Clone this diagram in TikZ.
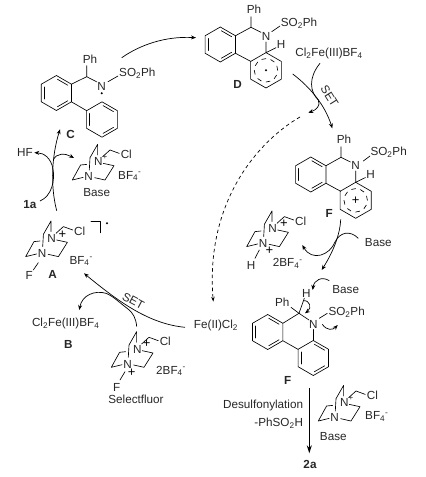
\documentclass[tikz,border=0pt]{standalone}
\usepackage{fontspec}
\setmainfont{Liberation Sans}
\usetikzlibrary{arrows.meta}
\newcommand{\fsz}{\fontsize{11.7}{13}\selectfont}
\tikzset{
  bond/.style={line width=0.65pt,line cap=round,line join=round},
  txt/.style={inner sep=0pt,font=\fsz,text=black!85},
  lbl/.style={inner sep=0pt,font=\fsz\bfseries,text=black!85},
  atom/.style={inner sep=0pt,font=\fsz,text=black!85},
  plussign/.style={inner sep=0pt,font=\fontsize{13}{13}\selectfont},
  curved/.style={line width=0.7pt,-{Stealth[length=5pt,width=4pt]}},
  dash arrow/.style={line width=0.7pt,dash pattern=on 3.5pt off 3pt,-{Stealth[length=5pt,width=3.5pt]}},
}
% Kekule benzene ring, vertex up
\newcommand{\benzring}[3]{%
  \begin{scope}[shift={(#1,#2)}]
    \draw[bond] (90:#3)--(30:#3)--(-30:#3)--(-90:#3)--(-150:#3)--(150:#3)--cycle;
    \draw[bond,shorten >=1.2pt,shorten <=1.2pt] (150:#3*0.82)--(210:#3*0.82);
    \draw[bond,shorten >=1.2pt,shorten <=1.2pt] (90:#3*0.82)--(30:#3*0.82);
    \draw[bond,shorten >=1.2pt,shorten <=1.2pt] (-90:#3*0.82)--(-30:#3*0.82);
  \end{scope}}
% ring with delocalised dashed circle
\newcommand{\openring}[3]{%
  \begin{scope}[shift={(#1,#2)}]
    \draw[bond] (90:#3)--(30:#3)--(-30:#3)--(-90:#3)--(-150:#3)--(150:#3)--cycle;
    \draw[line width=0.65pt,dash pattern=on 4.5pt off 4.6pt] (0,0) circle (11.7pt);
  \end{scope}}
% DABCO cage, origin at the quaternary N
\newcommand{\cage}[3]{%
  \begin{scope}[shift={(#2,#3)}]
    \node[atom] (#1np) at (0,0) {N};
    \node[atom] (#1n) at (-9.6,15) {N};
    \node[atom,anchor=west] (#1cl) at (22.3,-7.3) {Cl};
    \draw[bond] (-0.7,-6.7)--(-0.7,-17.3)--(-8.3,-4)--(-9,8.3);
    \draw[bond] (-11.7,2.7)--(-17.7,3.3)--(-26,18.3)--(-15.2,15.7);
    \draw[bond] (5,1.7)--(15.7,4)--(6.7,18.3)--(-3.6,16);
    \draw[bond] (4.3,-5)--(11.7,-11.7)--(21,-8.3);
  \end{scope}}
\begin{document}
\begin{tikzpicture}[x=1pt,y=-1pt]
\useasboundingbox (0,0) rectangle (426,477);

% ---------- C
\benzring{56.4}{93}{17.5}
\benzring{102}{119.5}{17.7}
\node[atom] (cPh) at (90,59) {Ph};
\node[atom] (cN) at (101.7,86) {N};
\node[atom,anchor=west] (cS) at (119,73) {SO\textsubscript{2}Ph};
\node[lbl] (cL) at (70.7,134) {C};
\draw[bond] (86.7,65.7)--(86.7,76.7)--(97,82);
\draw[bond] (86.7,76.7)--(71.4,84.2);
\draw[bond] (108,81.7)--(118,76);
\draw[bond] (71.4,101.8)--(86.7,110.7);
\fill (101.7,93.2) circle (1.1pt);

% ---------- D
\benzring{220.3}{44.5}{17.5}
\openring{266}{70.3}{17.7}
\node[atom] (dPh) at (254,9.3) {Ph};
\node[atom] (dN) at (266,36.7) {N};
\node[atom,anchor=west] (dS) at (280.7,23.3) {SO\textsubscript{2}Ph};
\node[atom] (dH) at (281,44.3) {H};
\node[lbl] (dL) at (237.7,84) {D};
\draw[bond] (251,16.7)--(251,27.3)--(261,32.3);
\draw[bond] (251,27.3)--(235.5,35.7);
\draw[bond] (235.5,53.3)--(251,61.5);
\draw[bond] (266,42)--(266,52.7)--(276,47.7);
\draw[bond] (271.7,31.7)--(280,26);
\fill (266,70.3) circle (1.1pt);

% ---------- Cl2Fe top
\node[txt] (feA) at (329,53.3) {Cl\textsubscript{2}Fe(III)BF\textsubscript{4}};

% ---------- F cation
\benzring{310.8}{174.5}{17.5}
\openring{355.7}{200.3}{18}
\node[atom] (fPh) at (344,139.3) {Ph};
\node[atom] (fN) at (355.7,165.7) {N};
\node[atom,anchor=west] (fS) at (370.3,152) {SO\textsubscript{2}Ph};
\node[atom] (fH) at (370.7,174.7) {H};
\node[lbl] (fL) at (329.3,213.3) {F};
\node[plussign] (fP) at (355.7,200.8) {+};
\draw[bond] (341,146.7)--(341,157.3)--(350.5,162);
\draw[bond] (341,157.3)--(326,165.7);
\draw[bond] (326,183.3)--(340.7,191.3);
\draw[bond] (355.7,171)--(355.7,182.3)--(365.5,177.5);
\draw[bond] (363.3,161)--(370,156);

% ---------- Base, left
\cage{bl}{98.3}{161.7}
\node[atom,font=\fontsize{8}{8}\selectfont] (blp) at (105,157.5) {+};
\node[txt,anchor=west] (blb) at (118,176) {BF\textsubscript{4}\textsuperscript{-}};
\node[txt] (blt) at (96.7,192.7) {Base};

% ---------- A
\cage{a}{51.7}{238.3}
\node[plussign] (ap) at (62.3,234.3) {+};
\node[atom] (aF) at (29.3,275) {F};
\node[lbl] (aL) at (52.7,274) {A};
\node[txt,anchor=west] (ab) at (69.3,261) {BF\textsubscript{4}\textsuperscript{-}};
\draw[bond] (38.3,262.7)--(33.3,270);
\draw[bond] (91,221.7)--(100.7,221.7)--(100.7,232.7);
\fill (107,223.3) circle (1.1pt);

% ---------- B
\node[txt] (feB) at (65.7,323.7) {Cl\textsubscript{2}Fe(III)BF\textsubscript{4}};
\node[lbl] (bL) at (68.3,344) {B};

% ---------- Selectfluor
\cage{s}{137.3}{349}
\node[plussign] (sp1) at (146.7,344) {+};
\node[plussign] (sp2) at (131.7,372.3) {+};
\node[atom] (sF) at (116.7,387.3) {F};
\node[txt,anchor=west] (sb) at (156,371) {2BF\textsubscript{4}\textsuperscript{-}};
\node[txt] (st) at (136,399) {Selectfluor};
\draw[bond] (125,371.7)--(120,380);

% ---------- middle cage
\cage{m}{272.7}{228.3}
\node[plussign] (mp1) at (284,223.3) {+};
\node[plussign] (mp2) at (269.3,250.7) {+};
\node[atom] (mH) at (251,265) {H};
\node[txt,anchor=west] (mb) at (272.7,263.3) {2BF\textsubscript{4}\textsuperscript{-}};
\draw[bond] (259.3,250)--(255,258.3);
\node[txt] (baseA) at (378.3,242.7) {Base};

% ---------- Fe(II)
\node[txt] (feC) at (216,325.7) {Fe(II)Cl\textsubscript{2}};

% ---------- second F
\benzring{267.7}{332}{17.5}
\benzring{313.3}{358}{17.5}
\node[atom] (gPh) at (282.3,302.7) {Ph};
\node[atom] (gH) at (306.3,293.3) {H};
\node[atom] (gN) at (313.3,324.3) {N};
\node[atom,anchor=west] (gS) at (328.3,312.3) {SO\textsubscript{2}Ph};
\node[lbl] (gL) at (287.7,380) {F};
\node[txt] (baseB) at (345.7,290) {Base};
\draw[bond] (291,307.3)--(299,313.3)--(309,320);
\draw[bond] (299,313.3)--(304.3,298.3);
\draw[bond] (283,323.2)--(299,313.3);
\draw[bond] (283,340.8)--(298,349.3);
\draw[bond] (313.3,329.5)--(313.3,340.5);
\draw[bond] (319.3,318.3)--(327.3,313.3);

% ---------- bottom
\node[txt,anchor=east] (des) at (303.3,405) {Desulfonylation};
\node[txt,anchor=east] (psh) at (303.3,423.3) {-PhSO\textsubscript{2}H};
\cage{r}{344.3}{402.7}
\node[atom,font=\fontsize{8}{8}\selectfont] (rp) at (351,398.5) {+};
\node[txt,anchor=west] (rb) at (365,416.7) {BF\textsubscript{4}\textsuperscript{-}};
\node[txt] (rt) at (333.3,436.7) {Base};
\node[lbl] (two) at (310,464) {2a};
\node[lbl] (one) at (30,205) {1a};
\node[txt] (hf) at (25,152.7) {HF};

% ---------- SET labels
\node[txt,rotate=-58] (setA) at (329.5,96) {SET};
\node[txt,rotate=-28] (setB) at (133.3,301) {SET};

% ---------- connector end points
\coordinate (c1) at (121.7,57.7);
\coordinate (c2) at (196,37.7);
\coordinate (s1) at (56.7,210.7);
\coordinate (s2) at (60,129.3);
\coordinate (h1) at (40,201);
\coordinate (h2) at (34.3,152.7);
\coordinate (b1) at (53.3,160);
\coordinate (b2) at (74,158);
\coordinate (m1) at (185,327.3);
\coordinate (m2) at (84,273.3);
\coordinate (q1) at (136.7,326.7);
\coordinate (q2) at (79.3,310);
\coordinate (d1) at (300,117);
\coordinate (d2) at (213.3,301.7);
\coordinate (e1) at (292.7,74);
\coordinate (e2) at (332.3,128.3);
\coordinate (k1) at (320,63.3);
\coordinate (k2) at (308.3,112.7);
\coordinate (f1) at (340.7,219.3);
\coordinate (f2) at (321.7,270);
\coordinate (g1) at (358.3,238.3);
\coordinate (g2) at (302.3,245);
\coordinate (u1) at (329.3,280.7);
\coordinate (u2) at (312.7,290);
\coordinate (v1) at (303.3,300.7);
\coordinate (v2) at (305,313.3);
\coordinate (w1) at (322.3,324.3);
\coordinate (w2) at (337.7,325);
\coordinate (z1) at (309.3,388.3);
\coordinate (z2) at (309.3,453.3);

% ---------- arrows
\draw[curved] (c1) .. controls (140,45) and (165,36) .. (c2);
\draw[curved] (s1) .. controls (50,185) and (52,155) .. (s2);
\draw[curved] (h1) .. controls (52,196) and (55,180) .. (53,169) .. controls (51,158) and (44,153) .. (h2);
\draw[curved] (b1) .. controls (56,153) and (65,153) .. (b2);
\draw[curved] (m1) .. controls (150,324) and (120,303) .. (m2);
\draw[curved] (q1) .. controls (136,318) and (133,313) .. (128,309) .. controls (120,303) and (113,296) .. (106,293.3) .. controls (95,290) and (82,295) .. (q2);
\draw[dash arrow] (d1) .. controls (260,140) and (205,200) .. (d2);
\draw[curved] (e1) .. controls (310,87) and (325,105) .. (e2);
\draw[curved] (k1) .. controls (308,78) and (310,92) .. (318.3,100) .. controls (321,106) and (316,110) .. (k2);
\draw[curved] (f1) .. controls (340,235) and (333,252) .. (f2);
\draw[curved] (g1) .. controls (350,230) and (340,232) .. (335,242) .. controls (330,255) and (312,262) .. (g2);
\draw[curved] (u1) .. controls (322,276) and (314,280) .. (u2);
\draw[curved] (v1) .. controls (310,300) and (312,308) .. (v2);
\draw[curved] (w1) .. controls (327,331) and (333,330) .. (w2);
\draw[line width=0.9pt,-{Stealth[length=8pt,width=5pt]}] (z1) -- (z2);
\end{tikzpicture}
\end{document}
